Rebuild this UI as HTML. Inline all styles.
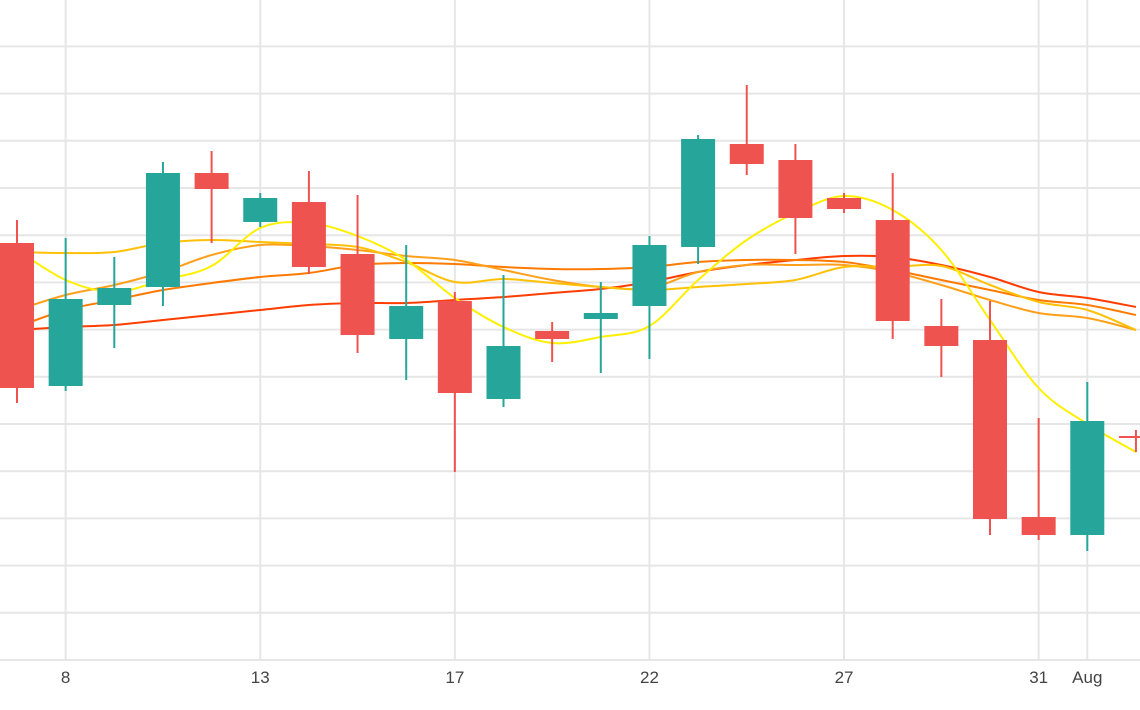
<!DOCTYPE html>
<html><head><meta charset="utf-8"><style>
body{margin:0;background:#fff;}
svg{display:block;font-family:"Liberation Sans",sans-serif;}
</style></head><body>
<svg id="chart" width="1140" height="710" xmlns="http://www.w3.org/2000/svg">
<g id="grid"></g>
<g id="lines"></g>
<g id="candles"></g>
<g id="xaxis"></g>
</svg>
<script>
const opens=[41.7,27.4,35.5,37.3,48.7,43.8,45.8,40.6,32.1,35.9,26.1,32.9,34.1,35.4,41.3,51.6,50.0,46.2,44.0,33.4,32.0,14.3,12.5,22.4];
const closes=[27.2,36.1,37.2,48.7,47.1,46.2,39.3,32.5,35.4,26.7,31.4,32.1,34.7,41.5,52.1,49.6,44.2,45.1,33.9,31.4,14.1,12.5,23.9,22.2];
const highs=[44.0,42.2,40.3,49.8,50.9,46.7,48.9,46.5,41.5,36.8,38.5,33.8,37.8,42.4,52.5,57.5,51.6,46.7,48.7,36.1,35.9,24.2,27.8,23.0];
const lows=[25.7,26.9,31.2,35.4,41.7,43.3,38.6,30.7,28.0,18.8,25.3,29.8,28.7,30.1,39.6,48.5,40.6,44.7,32.1,28.3,12.5,12.0,10.9,20.8];
const ma1=[41.0,38.0,36.8,38.0,39.4,43.2,43.7,42.4,40.0,36.2,33.3,31.7,32.3,33.4,38.0,42.0,44.7,46.4,45.0,41.0,34.0,27.2,23.6,20.8];
const ma2=[40.8,40.7,40.8,41.7,42.0,41.8,41.6,41.3,39.8,37.8,38.1,37.7,37.3,37.0,37.3,37.6,38.0,39.3,39.3,39.4,37.5,35.8,35.0,33.0];
const ma3=[35.0,36.5,37.5,38.8,40.5,41.5,41.4,41.0,40.4,40.0,39.0,38.0,37.3,37.2,38.8,39.5,39.5,39.5,38.8,37.5,36.0,34.7,34.2,33.0];
const ma4=[33.3,35.0,36.0,37.0,37.7,38.3,38.7,39.5,39.7,39.6,39.3,39.1,39.1,39.3,39.8,40.0,40.0,39.8,39.0,38.0,37.0,36.0,35.5,34.5];
const ma5=[33.0,33.3,33.5,34.0,34.5,35.0,35.5,35.7,35.7,36.0,36.3,36.7,37.1,37.8,38.8,39.5,40.0,40.4,40.3,39.5,38.3,36.8,36.2,35.3];
const tickIdx=[1,5,9,13,17,21,22];
const tickLabels=["8","13","17","22","27","31","Aug"];

const NS="http://www.w3.org/2000/svg";
const xS=i=>17+i*48.65;
const yS=v=>660-v*10;
function mk(tag,attrs,parent){const e=document.createElementNS(NS,tag);for(const k in attrs)e.setAttribute(k,attrs[k]);parent.appendChild(e);return e;}
const grid=document.getElementById('grid');
for(let k=0;k<14;k++){const y=660-k*47.2;
const gl=mk('line',{x1:0,x2:1140,y1:y,y2:y,stroke:'#e6e6e6','stroke-width':2},grid);

}
const xa=document.getElementById('xaxis');
tickIdx.forEach((ti,j)=>{const x=xS(ti);
const vl=mk('line',{x1:x,x2:x,y1:0,y2:660,stroke:'#e6e6e6','stroke-width':2},grid);


const t=mk('text',{x:x,y:683,'text-anchor':'middle','font-size':17,fill:'#444'},xa);
t.textContent=tickLabels[j];

});
const lg=document.getElementById('lines');
const series=[[ma5,'#ff3d00'],[ma4,'#ff7a00'],[ma3,'#ff9f1a'],[ma2,'#ffc107'],[ma1,'#ffef00']];
series.forEach(([d,c],si)=>{const p=d.map((v,i)=>[xS(i),yS(v)]);
let s=`M${p[0][0]},${p[0][1]}`;
for(let i=0;i<p.length-1;i++){const p0=p[Math.max(0,i-1)],p1=p[i],p2=p[i+1],p3=p[Math.min(p.length-1,i+2)];
s+=` C${p1[0]+(p2[0]-p0[0])/6},${p1[1]+(p2[1]-p0[1])/6} ${p2[0]-(p3[0]-p1[0])/6},${p2[1]-(p3[1]-p1[1])/6} ${p2[0]},${p2[1]}`;}
const path=mk('path',{d:s,fill:'none',stroke:c,'stroke-width':2},lg);

});
const cg=document.getElementById('candles');
opens.forEach((o,i)=>{const c=closes[i];const col=c>=o?'#26a69a':'#ef5350';const x=xS(i);
const g=mk('g',{},cg);


mk('line',{x1:x,x2:x,y1:yS(highs[i]),y2:yS(lows[i]),stroke:col,'stroke-width':2},g);
const top=yS(Math.max(o,c)),h=Math.max(2,Math.abs(yS(o)-yS(c)));
mk('rect',{x:x-17,y:top,width:34,height:h,fill:col},g);});
</script>
</body></html>
